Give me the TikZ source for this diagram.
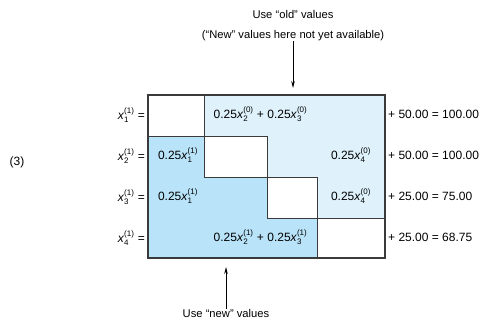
\documentclass[tikz,border=0pt]{standalone}
\usepackage{fontspec}
\usepackage{amsmath}
\setmainfont{Liberation Sans}
\usetikzlibrary{arrows.meta}
\definecolor{lightb}{HTML}{DFF2FC}
\definecolor{darkb}{HTML}{B9E3F8}
\definecolor{edgec}{HTML}{3A3A3A}
\newcommand{\xs}[2]{\textit{x}$^{\text{(#2)}}_{\text{#1}}$}
\tikzset{
  cellline/.style={draw=edgec, line width=0.9pt},
  outerline/.style={draw=edgec, line width=1.2pt},
  eq/.style={inner sep=0pt, font=\fontsize{12}{14}\selectfont},
  note/.style={inner sep=0pt, align=center, font=\fontsize{11.2}{20}\selectfont},
  pointer/.style={draw=black, line width=0.7pt, -{Stealth[length=7pt,width=3.5pt]}}
}
\begin{document}
\begin{tikzpicture}[x=1pt,y=-1pt]
\useasboundingbox (0,0) rectangle (482,333);
% coloured regions
\fill[lightb] (204,95) -- (385,95) -- (385,218) -- (317,218) -- (317,177) -- (267,177) -- (267,136) -- (204,136) -- cycle;
\fill[darkb] (148,136) -- (204,136) -- (204,177) -- (267,177) -- (267,218) -- (317,218) -- (317,258) -- (148,258) -- cycle;
% diagonal white cells
\draw[cellline] (148,95) rectangle (204,136);
\draw[cellline] (204,136) rectangle (267,177);
\draw[cellline] (267,177) rectangle (317,218);
\draw[cellline] (317,218) rectangle (385,258);
\draw[outerline] (148,95) rectangle (385,258);
% equation number
\node[eq] (eqn) at (17,162) {(3)};
% left labels
\node[eq, anchor=east] (l1) at (145,115.5) {\xs{1}{1} =};
\node[eq, anchor=east] (l2) at (145,156.5) {\xs{2}{1} =};
\node[eq, anchor=east] (l3) at (145,197.5) {\xs{3}{1} =};
\node[eq, anchor=east] (l4) at (145,238) {\xs{4}{1} =};
% cell contents
\node[eq] (c12) at (260.5,114) {0.25\xs{2}{0} + 0.25\xs{3}{0}};
\node[eq] (c21) at (178,155) {0.25\xs{1}{1}};
\node[eq] (c24) at (351,155) {0.25\xs{4}{0}};
\node[eq] (c31) at (178,196) {0.25\xs{1}{1}};
\node[eq] (c34) at (351,196) {0.25\xs{4}{0}};
\node[eq] (c42) at (260.5,237) {0.25\xs{2}{1} + 0.25\xs{3}{1}};
% right-hand sides
\node[eq, anchor=west] (r1) at (388,114) {+ 50.00 = 100.00};
\node[eq, anchor=west] (r2) at (388,155) {+ 50.00 = 100.00};
\node[eq, anchor=west] (r3) at (388,196) {+ 25.00 = 75.00};
\node[eq, anchor=west] (r4) at (388,237) {+ 25.00 = 68.75};
% annotations
\node[note, anchor=south] (old) at (293,41) {Use “old” values\\(“New” values here not yet available)};
\coordinate (oldtip) at (293,88);
\draw[pointer] (old.south) -- (oldtip);
\node[note, anchor=north] (new) at (226,309) {Use “new” values};
\coordinate (newtip) at (226,267);
\draw[pointer] (new.north) -- (newtip);
\end{tikzpicture}
\end{document}
